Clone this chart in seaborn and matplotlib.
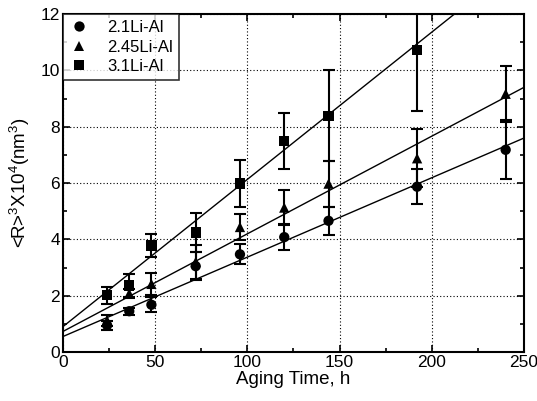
import numpy as np
import pandas as pd
import matplotlib
matplotlib.use("Agg")
import matplotlib.pyplot as plt
import seaborn as sns
from matplotlib.ticker import MultipleLocator

sns.set_theme(style="ticks")
plt.rcParams['font.family'] = ['Liberation Sans', 'DejaVu Sans']
plt.rcParams['mathtext.default'] = 'regular'
plt.rcParams['text.color'] = 'black'
plt.rcParams['axes.labelcolor'] = 'black'
plt.rcParams['xtick.color'] = 'black'
plt.rcParams['ytick.color'] = 'black'

series = ["2.1Li-Al", "2.45Li-Al", "3.1Li-Al"]

x_21 = [24, 36, 48, 72, 96, 120, 144, 192, 240]
y_21 = [0.95, 1.45, 1.68, 3.05, 3.47, 4.08, 4.66, 5.87, 7.18]
e_21 = [0.15, 0.12, 0.27, 0.5, 0.35, 0.45, 0.5, 0.62, 1.05]

x_245 = [24, 36, 48, 72, 96, 120, 144, 192, 240]
y_245 = [1.12, 2.08, 2.42, 3.2, 4.44, 5.13, 5.98, 6.88, 9.17]
e_245 = [0.2, 0.15, 0.4, 0.6, 0.47, 0.62, 0.82, 1.03, 1.0]

x_31 = [24, 36, 48, 72, 96, 120, 144, 192]
y_31 = [2.02, 2.36, 3.78, 4.25, 5.98, 7.49, 8.39, 10.72]
e_31 = [0.3, 0.4, 0.4, 0.7, 0.83, 1.0, 1.62, 2.15]

fit_intercepts = [0.55, 0.73, 0.9]
fit_slopes = [0.0282, 0.03468, 0.0523]

xs = [x_21, x_245, x_31]
ys = [y_21, y_245, y_31]
es = [e_21, e_245, e_31]
markers = ["o", "^", "s"]

rows = []
for name, xx, yy, ee in zip(series, xs, ys, es):
    for a, b, c in zip(xx, yy, ee):
        rows.append({"series": name, "t": a, "r": b, "err": c})
df = pd.DataFrame(rows)

fig = plt.figure(figsize=(5.37, 4.01), dpi=100)
ax = fig.add_axes([0.117, 0.122, 0.859, 0.843])

# fit lines
xfit = np.array([0, 250])
for b0, b1 in zip(fit_intercepts, fit_slopes):
    sns.lineplot(x=xfit, y=b0 + b1 * xfit, ax=ax, color="black", lw=1.0, zorder=2)

# error bars
for name in series:
    d = df[df.series == name]
    ax.errorbar(d.t, d.r, yerr=d.err, fmt="none", ecolor="black", elinewidth=1.5,
                capsize=4, capthick=1.5, zorder=3)

sns.scatterplot(data=df, x="t", y="r", style="series", markers=dict(zip(series, markers)),
                hue="series", palette=["black"] * 3, s=55, edgecolor="black",
                linewidth=0, ax=ax, zorder=4, legend=True)

ax.set_xlim(0, 250)
ax.set_ylim(0, 12)
ax.xaxis.set_major_locator(MultipleLocator(50))
ax.xaxis.set_minor_locator(MultipleLocator(25))
ax.yaxis.set_major_locator(MultipleLocator(2))
ax.yaxis.set_minor_locator(MultipleLocator(1))
ax.tick_params(which="both", direction="in", top=True, right=True, labelsize=12.5,
               width=1.2, colors="black", pad=2)
ax.tick_params(which="major", length=5)
ax.tick_params(which="minor", length=3)
ax.grid(True, which="major", linestyle=(0, (1, 2)), color="black", lw=0.8)
for s in ax.spines.values():
    s.set_linewidth(1.5)
    s.set_color("black")

ax.set_xlabel("Aging Time, h", fontsize=13.5, labelpad=1)
ax.set_ylabel("<R>$^3$X10$^4$(nm$^3$)", fontsize=13.5, labelpad=6)

leg = ax.legend(loc="upper left", fontsize=12, frameon=True, fancybox=False,
                edgecolor="black", borderaxespad=0, handlelength=1.2, handletextpad=1.1,
                borderpad=0.35, labelspacing=0.28, markerscale=1.0)
leg.get_frame().set_linewidth(1.2)

fig.savefig("out.png", dpi=100)
